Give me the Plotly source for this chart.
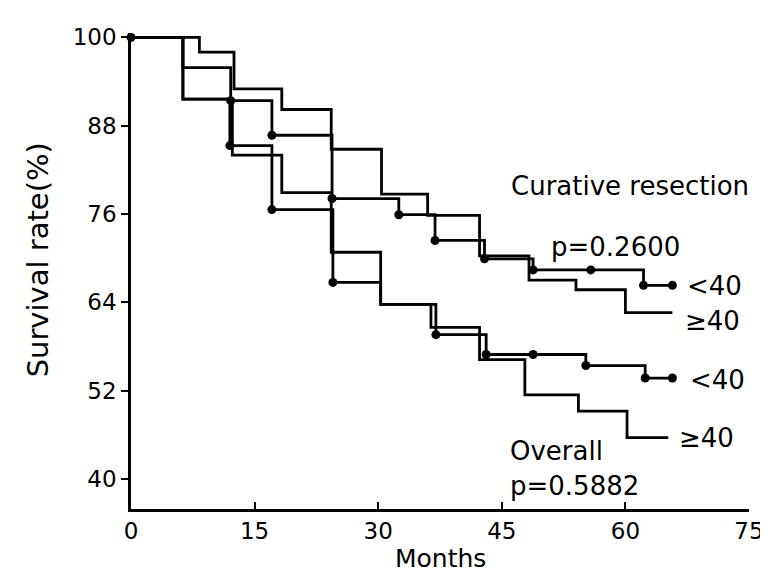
import plotly.graph_objects as go

# Kaplan-Meier step data (months, survival %)
cur_lt40_t = [0, 6.3, 12.1, 17.1, 24.4, 32.5, 36.9, 42.9, 48.8, 62.2, 65.7]
cur_lt40_v = [100, 95.9, 91.4, 86.7, 78.1, 75.9, 72.4, 69.9, 68.4, 66.3, 66.3]
cur_lt40_cens_t = [0, 12.1, 17.1, 24.4, 32.5, 36.9, 42.9, 48.8, 55.8, 62.2, 65.7]
cur_lt40_cens_v = [100, 91.4, 86.7, 78.1, 75.9, 72.4, 69.9, 68.4, 68.4, 66.3, 66.3]

cur_ge40_t = [0, 8.3, 12.5, 18.3, 24.3, 30.4, 36.0, 42.3, 48.3, 54.0, 60.0, 65.7]
cur_ge40_v = [100, 98.0, 93.0, 90.2, 84.8, 78.7, 75.8, 70.3, 67.0, 65.7, 62.6, 62.6]

ov_lt40_t = [0, 6.3, 12.0, 17.1, 24.5, 30.3, 37.0, 43.1, 55.2, 62.4, 65.7]
ov_lt40_v = [100, 91.6, 85.3, 76.6, 66.7, 63.7, 59.6, 56.9, 55.4, 53.7, 53.7]
ov_lt40_cens_t = [12.0, 17.1, 24.5, 37.0, 43.1, 48.8, 55.2, 62.4, 65.7]
ov_lt40_cens_v = [85.3, 76.6, 66.7, 59.6, 56.9, 56.9, 55.4, 53.7, 53.7]

ov_ge40_t = [0, 6.3, 12.3, 18.3, 24.3, 30.3, 36.4, 42.3, 47.8, 54.3, 60.2, 65.2]
ov_ge40_v = [100, 91.6, 84.0, 78.9, 70.8, 63.7, 60.6, 56.2, 51.4, 49.2, 45.6, 45.6]

x_ticks = [0, 15, 30, 45, 60, 75]
y_ticks = [40, 52, 64, 76, 88, 100]

FONT = "DejaVu Sans"
fig = go.Figure()
for t, v in [(cur_lt40_t, cur_lt40_v), (cur_ge40_t, cur_ge40_v),
             (ov_lt40_t, ov_lt40_v), (ov_ge40_t, ov_ge40_v)]:
    fig.add_trace(go.Scatter(x=t, y=v, mode="lines", line=dict(color="black", width=2.8, shape="hv"),
                             showlegend=False, hoverinfo="skip"))
for t, v in [(cur_lt40_cens_t, cur_lt40_cens_v), (ov_lt40_cens_t, ov_lt40_cens_v)]:
    fig.add_trace(go.Scatter(x=t, y=v, mode="markers", marker=dict(color="black", size=9),
                             showlegend=False, hoverinfo="skip", cliponaxis=False))

ann = [
    ("Curative resection", 45.9, 79.8),
    ("p=0.2600", 50.7, 71.5),
    ("<40", 67.2, 66.2),
    ("≥40", 67.0, 61.5),
    ("<40", 67.6, 53.5),
    ("≥40", 66.3, 45.6),
    ("Overall", 45.7, 43.8),
    ("p=0.5882", 45.7, 39.0),
]
for text, x, y in ann:
    fig.add_annotation(x=x, y=y, xref="x", yref="y", text=text, showarrow=False,
                       xanchor="left", yanchor="middle", font=dict(family=FONT, size=26, color="black"))

fig.add_annotation(x=-0.150, y=0.523, xref="paper", yref="paper", text="Survival rate(%)",
                   textangle=-90, showarrow=False, xanchor="center", yanchor="middle",
                   font=dict(family=FONT, size=29, color="black"))
fig.add_annotation(x=0.5, y=-0.103, xref="paper", yref="paper", text="Months",
                   showarrow=False, xanchor="center", yanchor="middle",
                   font=dict(family=FONT, size=25, color="black"))

fig.update_xaxes(range=[0, 75], tickvals=x_ticks, ticktext=[str(v) for v in x_ticks],
                 showline=True, linecolor="black", linewidth=2.5, ticks="inside", ticklen=7,
                 tickwidth=2, tickcolor="black", showgrid=False, zeroline=False,
                 tickfont=dict(family=FONT, size=23, color="black"))
fig.update_yaxes(range=[35.9, 100.6], tickvals=y_ticks, ticktext=[str(v) for v in y_ticks],
                 showline=True, linecolor="black", linewidth=2.5, ticks="outside", ticklen=7,
                 tickwidth=2, tickcolor="black", showgrid=False, zeroline=False,
                 tickfont=dict(family=FONT, size=23, color="black"))
fig.update_layout(width=768, height=576, margin=dict(l=123, r=18, t=25, b=75),
                  plot_bgcolor="white", paper_bgcolor="white")
fig.write_html("out.html")
